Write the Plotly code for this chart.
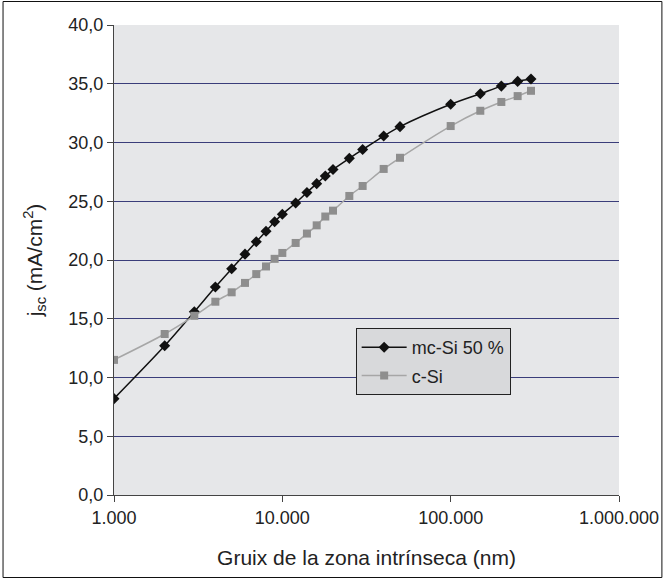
import plotly.graph_objects as go

# Intrinsic-layer thickness (nm), shared by both series
thickness_nm = [1000, 2000, 3000, 4000, 5000, 6000, 7000, 8000, 9000, 10000,
                12000, 14000, 16000, 18000, 20000, 25000, 30000, 40000, 50000,
                100000, 150000, 200000, 250000, 300000]

# Short-circuit current density (mA/cm2)
jsc_mcsi = [8.2, 12.7, 15.6, 17.7, 19.25, 20.5, 21.55, 22.45, 23.25, 23.9,
            24.85, 25.75, 26.5, 27.15, 27.7, 28.65, 29.4, 30.55, 31.35,
            33.25, 34.15, 34.8, 35.2, 35.4]
jsc_csi = [11.5, 13.7, 15.25, 16.45, 17.25, 18.05, 18.8, 19.45, 20.1, 20.6,
           21.45, 22.25, 22.95, 23.7, 24.2, 25.45, 26.3, 27.75, 28.7,
           31.4, 32.7, 33.45, 33.95, 34.4]

series_names = ["mc-Si 50 %", "c-Si"]
y_ticks = [0, 5, 10, 15, 20, 25, 30, 35, 40]
x_ticks = [1000, 10000, 100000, 1000000]

W, H = 671, 579
L, R, T, B = 114, 45, 25, 84

fig = go.Figure()
fig.add_trace(go.Scatter(
    x=thickness_nm, y=jsc_mcsi, name=series_names[0], legendgroup="a",
    mode="lines+markers", line=dict(color="#111111", width=1.5, shape="spline", smoothing=0.8),
    marker=dict(symbol="diamond", size=8.5, color="#111111"),
))
fig.add_trace(go.Scatter(
    x=thickness_nm, y=jsc_csi, name=series_names[1], legendgroup="b",
    mode="lines+markers", line=dict(color="#a6a6a6", width=1.5, shape="spline", smoothing=0.8),
    marker=dict(symbol="square", size=8, color="#8e8e8e"),
))

font_family = "Liberation Sans, Arial, sans-serif"
pw = W - L - R
ph = H - T - B

fig.update_layout(
    width=W, height=H,
    margin=dict(l=L, r=R, t=T, b=B, pad=0),
    paper_bgcolor="white",
    plot_bgcolor="#e6e7e9",
    separators=",.",
    font=dict(family=font_family, size=18, color="#222222"),
    showlegend=True,
    legend=dict(
        x=(359 - L) / pw, y=(H - B - 328) / ph, xanchor="left", yanchor="top",
        bgcolor="#d8d9db", bordercolor="#222222", borderwidth=1,
        font=dict(size=18, color="#222222"),
        itemwidth=45,
        tracegroupgap=2, traceorder="grouped",
    ),
    xaxis=dict(
        type="log", range=[3, 6],
        tickvals=x_ticks, tickformat=",.0f",
        ticks="outside", ticklen=6, tickcolor="#444444",
        showline=True, linecolor="#444444", linewidth=1,
        showgrid=False, zeroline=False,
        tickfont=dict(size=18),
        title=dict(text="Gruix de la zona intrínseca (nm)", font=dict(size=21), standoff=23),
    ),
    yaxis=dict(
        range=[0, 40], tickvals=y_ticks, tickformat=".1f",
        ticks="outside", ticklen=6, tickcolor="#444444",
        showline=True, linecolor="#444444", linewidth=1,
        showgrid=True, gridcolor="#3a3d7a", gridwidth=1, zeroline=False,
        tickfont=dict(size=18),
        title=dict(text="j<sub>sc</sub> (mA/cm<sup>2</sup>)", font=dict(size=21), standoff=20),
    ),
    shapes=[dict(
        type="rect", xref="paper", yref="paper",
        x0=(1.5 - L) / pw, x1=(669.5 - L) / pw,
        y0=(H - B - 577.5) / ph, y1=(H - B - 1.5) / ph,
        line=dict(color="#111111", width=1), layer="below",
    )],
)

fig.write_html("out.html")
